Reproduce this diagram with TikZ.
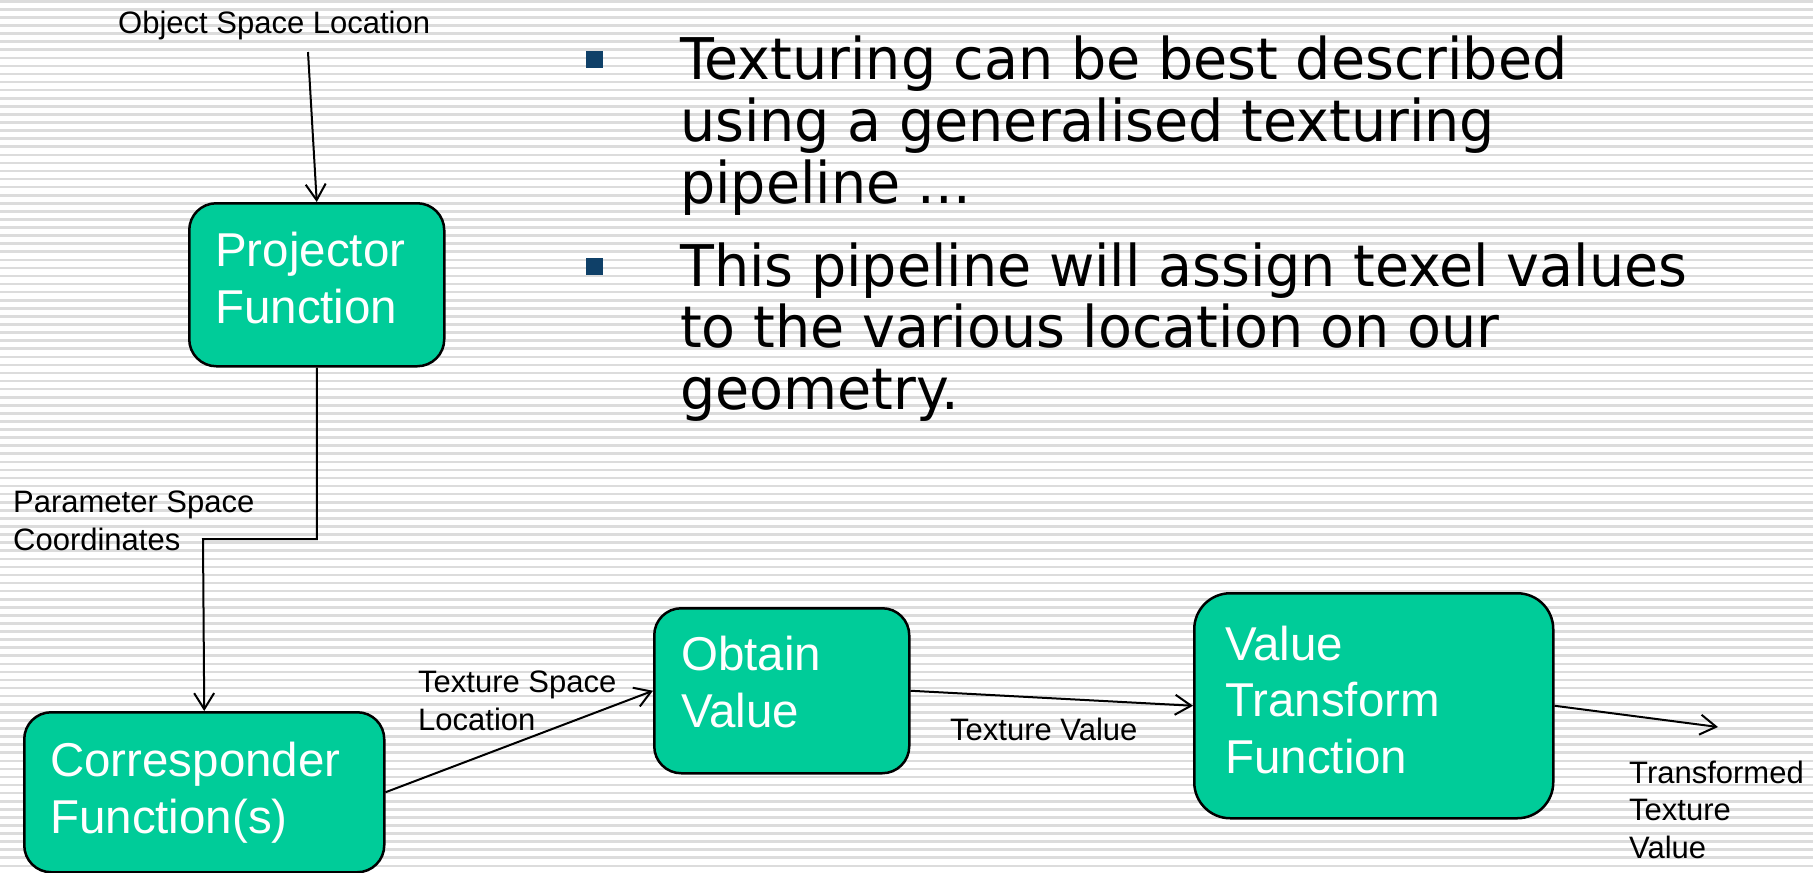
\documentclass[tikz,border=0pt]{standalone}
\usepackage{fontspec}
\setmainfont{Liberation Sans}
\newfontfamily\bulfont[FakeStretch=0.965]{DejaVu Sans}
\usetikzlibrary{arrows.meta}
\definecolor{boxgreen}{RGB}{0,204,153}
\definecolor{bulblue}{RGB}{15,64,104}
\definecolor{stripecol}{RGB}{220,220,220}
\begin{document}
\begin{tikzpicture}[x=1pt,y=-1pt,
  pbox/.style={draw=black, line width=2.5pt, fill=boxgreen, rounded corners=#1, inner sep=0pt, anchor=north west},
  btext/.style={text=white, font=\fontsize{47.5}{56.5}\selectfont, align=left, inner sep=0pt, anchor=base west},
  lbl/.style={text=black, font=\fontsize{31}{37.5}\selectfont, align=left, inner sep=0pt, anchor=base west},
  bul/.style={text=black, font=\bulfont\fontsize{57.5}{61.7}\selectfont, align=left, inner sep=0pt, anchor=base west},
  bsq/.style={fill=bulblue, minimum size=17pt, inner sep=0pt},
  arr/.style={line width=2pt, -{Straight Barb[length=16pt,width=20pt]}}]
\useasboundingbox (0,0) rectangle (1813,873);
\fill[white] (0,0) rectangle (1813,873);
\foreach \i in {0,...,108} \fill[stripecol] (0,{\i*8.08}) rectangle (1813,{\i*8.08+2.6});

% boxes
\node[pbox=27pt, minimum width=255pt, minimum height=163pt] (proj) at (188,202) {};
\node[pbox=27pt, minimum width=360pt, minimum height=160pt] (corr) at (23,711) {};
\node[pbox=27pt, minimum width=255pt, minimum height=165pt] (obt) at (653,607) {};
\node[pbox=36pt, minimum width=359pt, minimum height=225pt] (vtf) at (1193,592) {};

% box texts (anchor = baseline of last line)
\node[btext] (projT) at (215,323) {Projector\\Function};
\node[btext] (corrT) at (50,833) {Corresponder\\Function(s)};
\node[btext] (obtT) at (681,727) {Obtain\\Value};
\node[btext] (vtfT) at (1225,773) {Value\\Transform\\Function};

% labels
\node[lbl] (osl) at (118,33) {Object Space Location};
\node[lbl] (psc) at (13,550) {Parameter Space\\Coordinates};
\node[lbl] (tsl) at (418,730) {Texture Space\\Location};
\node[lbl] (tv) at (950,740) {Texture Value};
\node[lbl] (ttv) at (1629,858) {Transformed\\Texture\\Value};

% bullets
\node[bsq] (b1) at (594.5,59.5) {};
\node[bsq] (b2) at (594.5,266.5) {};
\node[bul] (t1) at (680,203) {Texturing can be best described\\using a generalised texturing\\pipeline ...};
\node[bul] (t2) at (680,409.5) {This pipeline will assign texel values\\to the various location on our\\geometry.};

% connectors
\coordinate (oslEnd) at (308,52);
\coordinate (kink) at (203,539);
\coordinate (outEnd) at (1718,727);
\draw[arr] (oslEnd) -- (proj.north);
\draw[arr] (proj.south) |- (kink) -- (corr.north);
\draw[arr] (corr.east) -- (obt.west);
\draw[arr] (obt.east) -- (vtf.west);
\draw[arr] (vtf.east) -- (outEnd);
\end{tikzpicture}
\end{document}
